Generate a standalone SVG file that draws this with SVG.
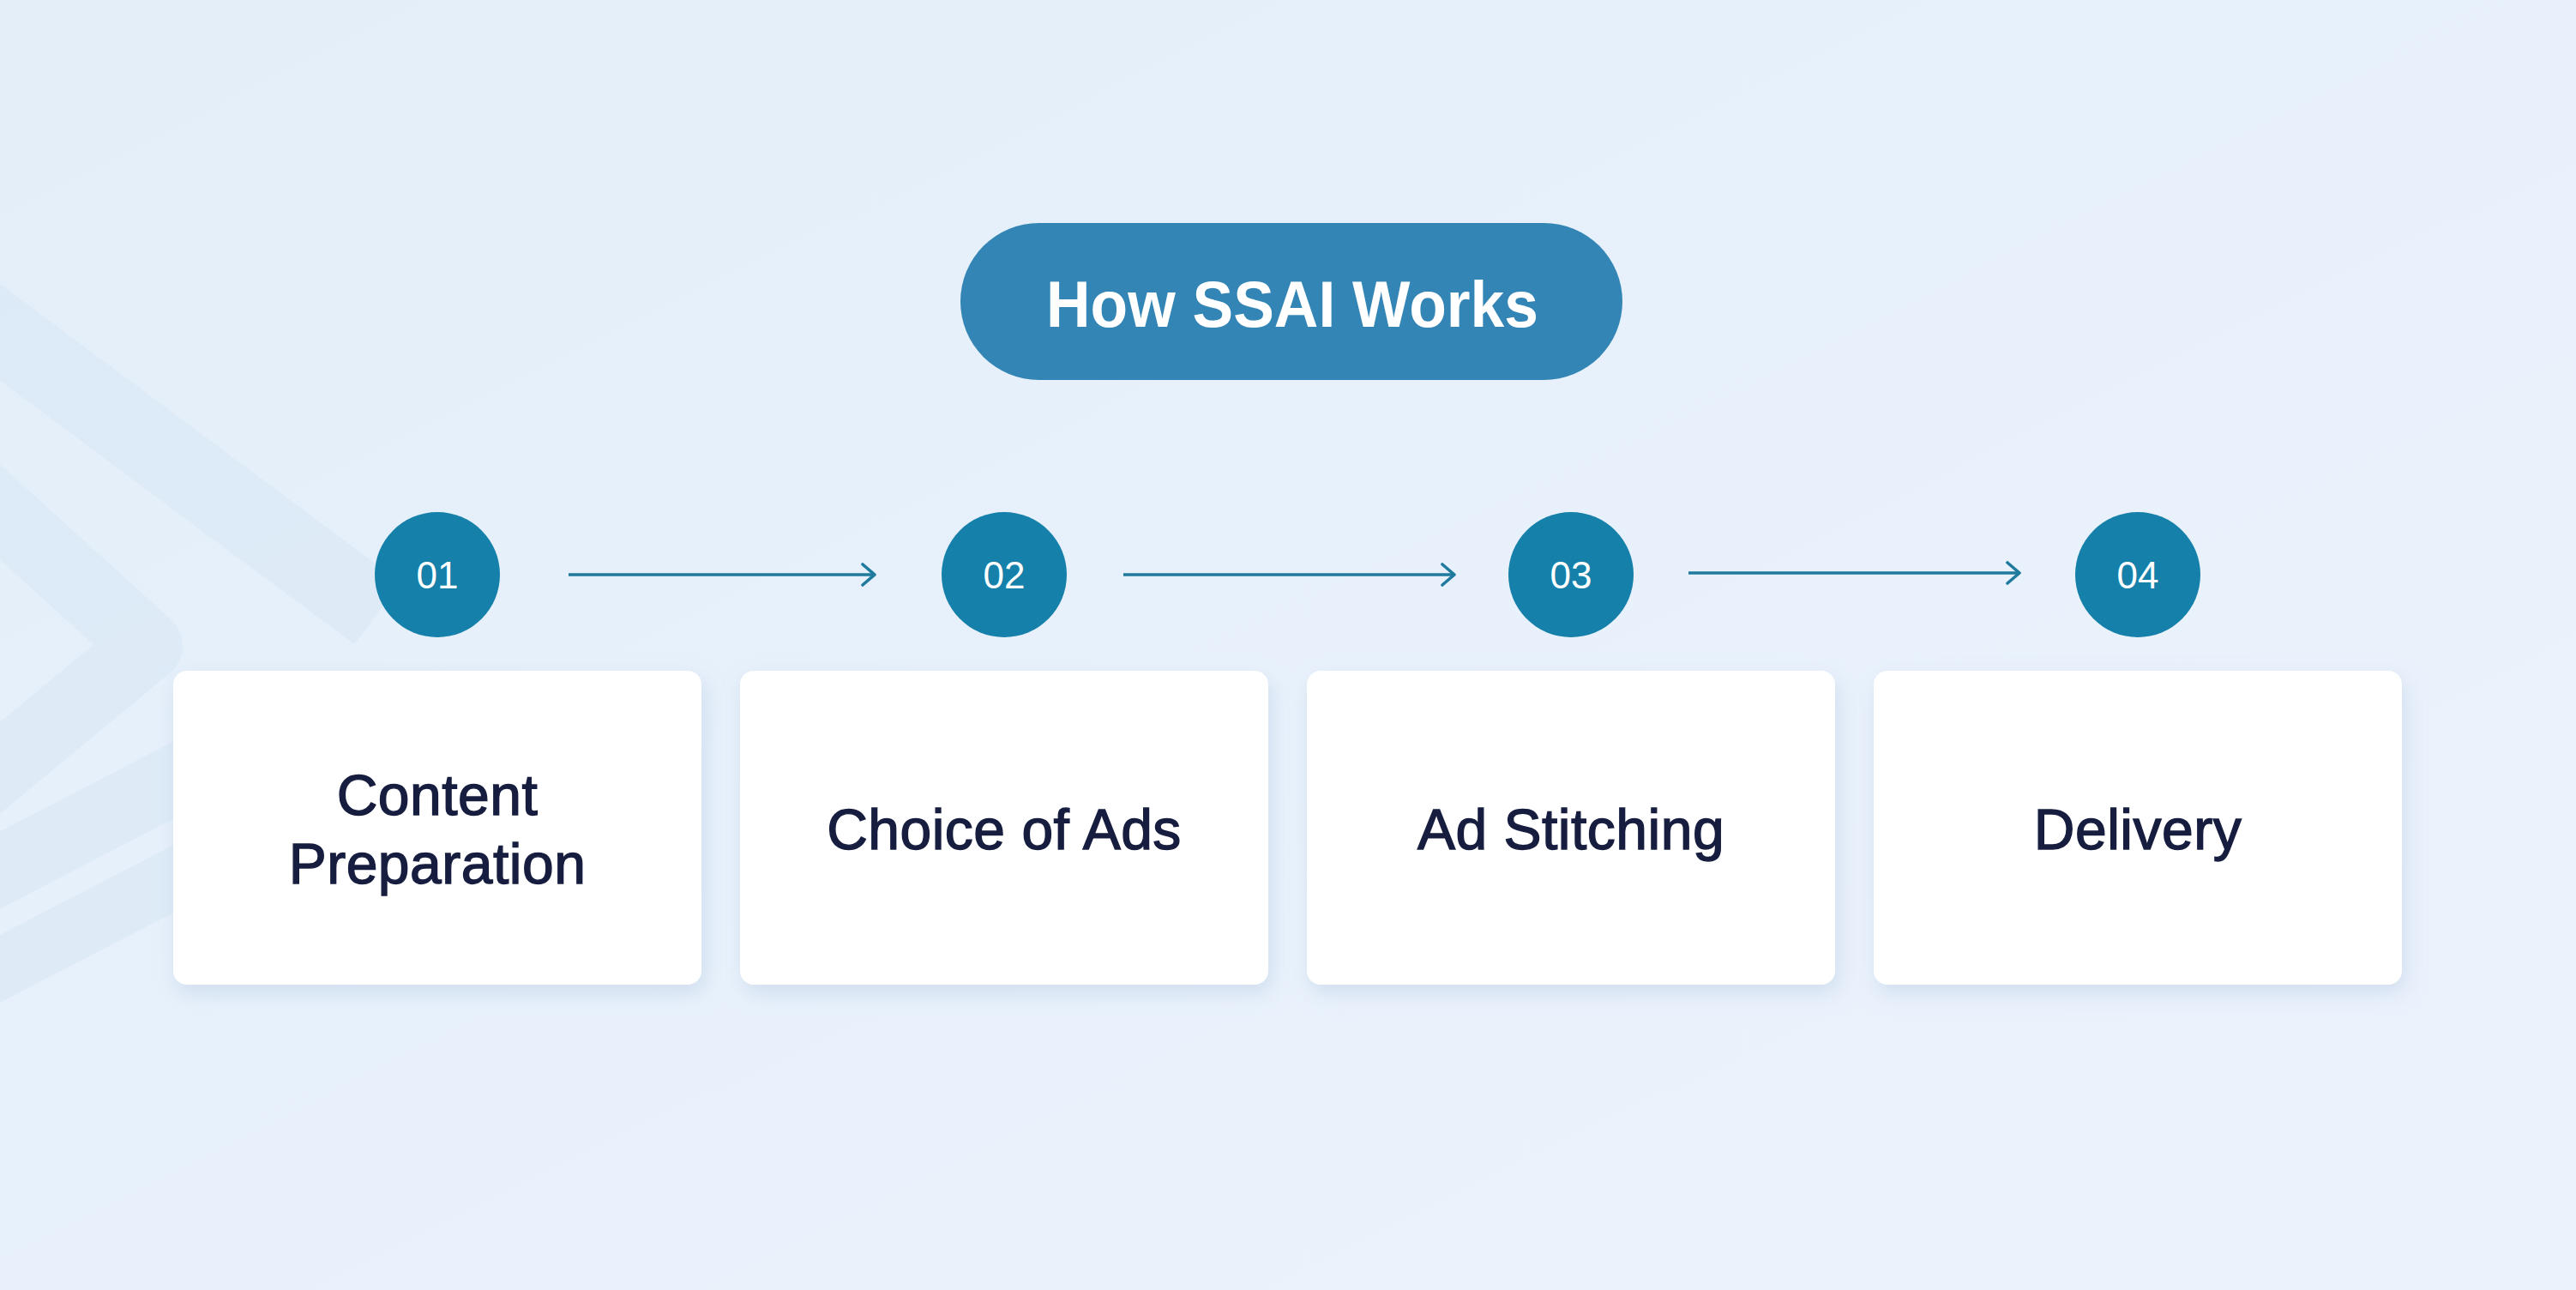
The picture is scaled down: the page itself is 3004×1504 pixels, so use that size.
<svg xmlns="http://www.w3.org/2000/svg" width="3004" height="1504" viewBox="0 0 3004 1504">
  <defs>
    <linearGradient id="bg" x1="0" y1="0" x2="1" y2="1">
      <stop offset="0" stop-color="#E3EEF9"/>
      <stop offset="0.5" stop-color="#E8F1FB"/>
      <stop offset="1" stop-color="#ECF2FC"/>
    </linearGradient>
    <filter id="shadow" x="-10%" y="-10%" width="125%" height="135%">
      <feDropShadow dx="4" dy="10" stdDeviation="12" flood-color="#A9BEDD" flood-opacity="0.38"/>
    </filter>
    <marker id="chev" viewBox="0 0 20 30" refX="16" refY="15" markerWidth="20" markerHeight="30" markerUnits="userSpaceOnUse" orient="auto">
      <path d="M2 3 L16 15 L2 27" fill="none" stroke="#1F7A9E" stroke-width="3.6" stroke-linecap="round" stroke-linejoin="round"/>
    </marker>
  </defs>
  <style>
    .deco { fill: none; stroke: #D6E6F3; stroke-opacity: 0.5; stroke-linejoin: round; }
    .card { fill: #FFFFFF; filter: url(#shadow); }
    .num { fill: #1580A9; }
    .numtxt { font-family: "Liberation Sans", Arial, sans-serif; font-size: 44px; fill: #FFFFFF; text-anchor: middle; }
    .lbl { font-family: "Liberation Sans", Arial, sans-serif; font-size: 66px; fill: #161D3F; stroke: #161D3F; stroke-width: 1.4; text-anchor: middle; letter-spacing: 0.5px; }
    .conn { fill: none; stroke: #1F7A9E; stroke-width: 3.4; marker-end: url(#chev); }
  </style>

  <rect x="0" y="0" width="3004" height="1504" fill="url(#bg)"/>

  <!-- faint decorative chevrons at the left -->
  <g id="decoration">
    <path class="deco" d="M -30 365 L 440 715" stroke-width="90"/>
    <path class="deco" d="M -30 570 L 172 753 L -30 920" stroke-width="82"/>
    <path class="deco" d="M -30 1030 L 240 890" stroke-width="80"/>
    <path class="deco" d="M -30 1145 L 240 1005" stroke-width="70"/>
  </g>

  <g id="title">
    <rect x="1120" y="260" width="772" height="183" rx="91.5" fill="#3385B5"/>
    <text x="1507" y="381" font-family="'Liberation Sans', Arial, sans-serif" font-size="76" font-weight="bold" fill="#FFFFFF" text-anchor="middle" textLength="574" lengthAdjust="spacingAndGlyphs">How SSAI Works</text>
  </g>

  <g id="connectors">
    <path class="conn" d="M 663 670 L 1020 670"/>
    <path class="conn" d="M 1310 670 L 1696 670"/>
    <path class="conn" d="M 1969 668 L 2355 668"/>
  </g>

  <g id="step01">
    <circle class="num" cx="510" cy="670" r="73"/>
    <text class="numtxt" x="510" y="686">01</text>
  </g>
  <g id="step02">
    <circle class="num" cx="1171" cy="670" r="73"/>
    <text class="numtxt" x="1171" y="686">02</text>
  </g>
  <g id="step03">
    <circle class="num" cx="1832" cy="670" r="73"/>
    <text class="numtxt" x="1832" y="686">03</text>
  </g>
  <g id="step04">
    <circle class="num" cx="2493" cy="670" r="73"/>
    <text class="numtxt" x="2493" y="686">04</text>
  </g>

  <g id="card-content-preparation">
    <rect class="card" x="202" y="782" width="616" height="366" rx="16"/>
    <text class="lbl" x="510" y="950">Content</text>
    <text class="lbl" x="510" y="1030">Preparation</text>
  </g>
  <g id="card-choice-of-ads">
    <rect class="card" x="863" y="782" width="616" height="366" rx="16"/>
    <text class="lbl" x="1171" y="990">Choice of Ads</text>
  </g>
  <g id="card-ad-stitching">
    <rect class="card" x="1524" y="782" width="616" height="366" rx="16"/>
    <text class="lbl" x="1832" y="990">Ad Stitching</text>
  </g>
  <g id="card-delivery">
    <rect class="card" x="2185" y="782" width="616" height="366" rx="16"/>
    <text class="lbl" x="2493" y="990">Delivery</text>
  </g>
</svg>
